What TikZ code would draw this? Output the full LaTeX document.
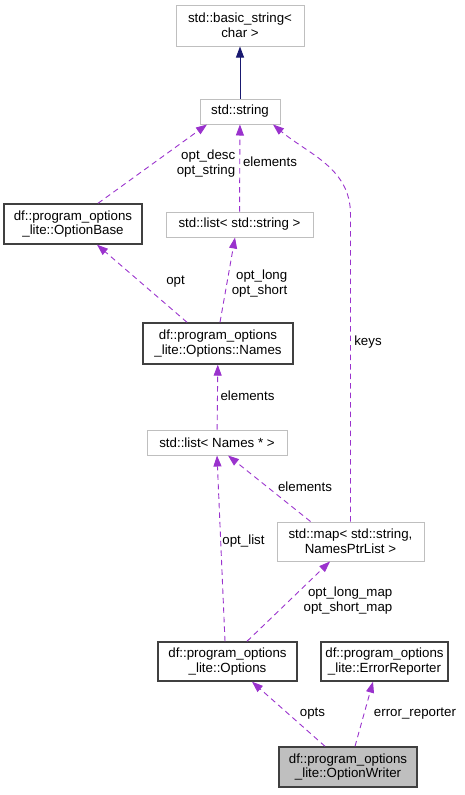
\documentclass[tikz,border=0pt]{standalone}
\usepackage{fontspec}
\setmainfont{Liberation Sans}
\usetikzlibrary{positioning,arrows.meta}
\definecolor{EdgePurple}{HTML}{9A32CD}
\definecolor{EdgeNavy}{HTML}{191970}
\definecolor{BoxGray}{HTML}{BFBFBF}
\definecolor{BoxDark}{HTML}{404040}

\begin{document}
\begin{tikzpicture}[x=1pt,y=1pt,>={Triangle[length=11pt,width=8pt]},
  every node/.style={font=\fontsize{13.3}{14.8}\selectfont,inner sep=0pt},
  extbox/.style={draw=BoxGray,line width=1pt,align=center},
  clsbox/.style={draw=BoxDark,line width=1.4pt,align=center},
  member/.style={->,EdgePurple,dash pattern=on 5.5pt off 4pt,line width=0.9pt},
  inherit/.style={->,EdgeNavy,line width=0.9pt},
  lbl/.style={align=center}]
  \useasboundingbox (0,0) rectangle (464,-795);
  % classes
  \node[extbox,minimum width=128,minimum height=41] (basic) at (240,-25.5) {std::basic\_string<\\char >};
  \node[extbox,minimum width=80,minimum height=25] (strg) at (240,-111.5) {std::string};
  \node[clsbox,minimum width=138,minimum height=40] (base) at (73,-224) {df::program\_options\\\_lite::OptionBase};
  \node[extbox,minimum width=147,minimum height=25] (lstr) at (239.5,-224.5) {std::list< std::string >};
  \node[clsbox,minimum width=150,minimum height=41] (names) at (218,-343.5) {df::program\_options\\\_lite::Options::Names};
  \node[extbox,minimum width=140,minimum height=25] (lnam) at (217,-442.5) {std::list< Names * >};
  \node[extbox,minimum width=147,minimum height=39] (map) at (350.5,-541.5) {std::map< std::string,\\NamesPtrList >};
  \node[clsbox,minimum width=139,minimum height=39] (opts) at (227.5,-661.5) {df::program\_options\\\_lite::Options};
  \node[clsbox,minimum width=127,minimum height=39] (err) at (384.5,-661.5) {df::program\_options\\\_lite::ErrorReporter};
  \node[clsbox,fill=BoxGray,minimum width=138,minimum height=40] (writer) at (348,-767) {df::program\_options\\\_lite::OptionWriter};
  % connectors
  \draw[inherit] (strg) -- (basic);
  \draw[member] ([xshift=25pt]base.north) -- ([xshift=-33pt]strg.south);
  \draw[member] (lstr) -- (strg);
  \draw[member] (map.north) -- ++(0,307) to[out=90,in=-40] ([xshift=33pt]strg.south);
  \draw[member] ([xshift=-31pt]names.north) -- ([xshift=24pt]base.south);
  \draw[member] ([xshift=2pt]names.north) -- ([xshift=-4.5pt]lstr.south);
  \draw[member] (lnam) -- (names);
  \draw[member] ([xshift=-40pt]map.north) -- ([xshift=11pt]lnam.south);
  \draw[member] ([xshift=-2.5pt]opts.north) -- (lnam.south);
  \draw[member] ([xshift=19.5pt]opts.north) -- ([xshift=-20.5pt]map.south);
  \draw[member] ([xshift=-23pt]writer.north) -- ([xshift=24.5pt]opts.south);
  \draw[member] ([xshift=7pt]writer.north) -- ([xshift=-11.5pt]err.south);
  % labels
  \node[lbl,align=right] (ldesc) at (206,-163.5) {opt\_desc\\opt\_string};
  \node[lbl] (lelem1) at (270,-162) {elements};
  \node[lbl] (lkeys) at (368,-342) {keys};
  \node[lbl] (lopt) at (175.5,-282) {opt};
  \node[lbl,align=right] (lshort) at (259.5,-283.5) {opt\_long\\opt\_short};
  \node[lbl] (lelem2) at (247.5,-396) {elements};
  \node[lbl] (lelem3) at (305,-487) {elements};
  \node[lbl] (llist) at (243.5,-541) {opt\_list};
  \node[lbl,align=right] (lmap) at (348,-600.5) {opt\_long\_map\\opt\_short\_map};
  \node[lbl] (lopts) at (312.5,-714) {opts};
  \node[lbl] (lerr) at (415,-714) {error\_reporter};
\end{tikzpicture}
\end{document}
